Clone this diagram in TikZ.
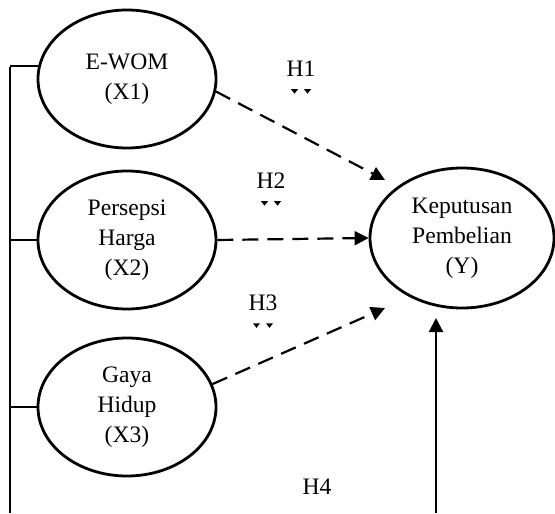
\documentclass[tikz,border=0pt]{standalone}
\usepackage{fontspec}
\setmainfont{Liberation Serif}
\usetikzlibrary{shapes.geometric,arrows.meta}
\tikzset{
  var/.style={draw, ellipse, line width=1.4pt, minimum width=89pt, minimum height=69pt,
    inner sep=0pt, align=center, font=\fontsize{11.8}{15}\selectfont},
  hyp/.style={font=\fontsize{11.8}{13}\selectfont, inner sep=0pt},
  dasharrow/.style={line width=1.1pt, dash pattern=on 8pt off 4.5pt,
    -{Triangle[length=7pt,width=7pt]}},
  solidarrow/.style={line width=1.1pt, -{Triangle[length=7pt,width=7pt]}},
  bar/.style={line width=1pt},
}
\begin{document}
\begin{tikzpicture}[x=0.5pt,y=-0.5pt]
  \useasboundingbox (0,0) rectangle (555,513);
  % variables
  \node[var] (ewom) at (127,79) {E-WOM\\(X1)};
  \node[var] (harga) at (127,240) {Persepsi\\Harga\\(X2)};
  \node[var] (gaya) at (127,407) {Gaya\\Hidup\\(X3)};
  \node[var, minimum width=92pt, minimum height=70pt] (keputusan) at (462,238)
    {Keputusan\\Pembelian\\(Y)};
  % hypotheses
  \node[hyp] (h1) at (301,69) {H1};
  \node[hyp] (h2) at (271,181) {H2};
  \node[hyp] (h3) at (263,303) {H3};
  \node[hyp] (h4) at (317,487) {H4};
  \foreach \h in {h1,h2,h3}
    \foreach \dx in {-6.5,6.5}
      \fill ([xshift=\dx*0.5pt, yshift=-6pt]\h.south) ++(-3.5,0) -- ++(7,0) -- ++(-3.5,4.5) -- cycle;
  % arrows
  \coordinate (t1) at (385,180);
  \coordinate (t3) at (385,308);
  \coordinate (t4) at (436,318);
  \coordinate (b4) at (436,513);
  \draw[dasharrow] (ewom.-8) -- (t1);
  \draw[dasharrow] (harga.east) -- (keputusan.west);
  \draw[dasharrow] (gaya.15) -- (t3);
  \draw[solidarrow] (b4) -- (t4);
  % bracket
  \coordinate (bartop) at (10,67);
  \coordinate (barbot) at (10,513);
  \draw[bar] (bartop) -- (barbot);
  \foreach \n/\a in {ewom/172, harga/180, gaya/180}
    \draw[bar] (\n.\a -| bartop) -- (\n.\a);
\end{tikzpicture}
\end{document}
